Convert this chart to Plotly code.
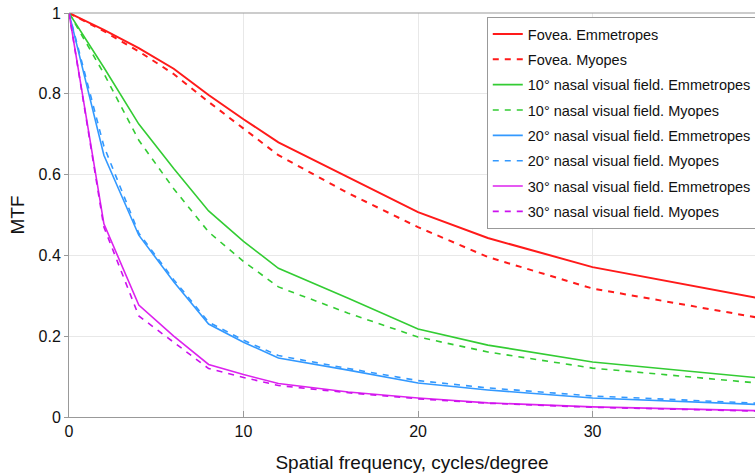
import plotly.graph_objects as go

freq = [0, 2, 4, 6, 8, 10, 12, 16, 20, 24, 30, 40]

fovea_emm = [1, 0.958, 0.913, 0.862, 0.797, 0.737, 0.68, 0.594, 0.507, 0.443, 0.371, 0.29]
fovea_myo = [1, 0.955, 0.905, 0.849, 0.78, 0.715, 0.648, 0.554, 0.47, 0.396, 0.318, 0.242]
n10_emm = [1, 0.865, 0.725, 0.615, 0.51, 0.435, 0.368, 0.294, 0.218, 0.178, 0.136, 0.095]
n10_myo = [1, 0.85, 0.685, 0.565, 0.458, 0.385, 0.322, 0.257, 0.198, 0.161, 0.121, 0.082]
n20_emm = [1, 0.648, 0.45, 0.335, 0.23, 0.185, 0.146, 0.116, 0.084, 0.067, 0.047, 0.03]
n20_myo = [1, 0.67, 0.455, 0.34, 0.235, 0.19, 0.152, 0.12, 0.09, 0.072, 0.052, 0.033]
n30_emm = [1, 0.478, 0.277, 0.2, 0.13, 0.105, 0.083, 0.062, 0.047, 0.035, 0.025, 0.015]
n30_myo = [1, 0.47, 0.25, 0.185, 0.12, 0.098, 0.078, 0.06, 0.045, 0.034, 0.024, 0.014]

names = [
    "Fovea. Emmetropes", "Fovea. Myopes",
    "10° nasal visual field. Emmetropes", "10° nasal visual field. Myopes",
    "20° nasal visual field. Emmetropes", "20° nasal visual field. Myopes",
    "30° nasal visual field. Emmetropes", "30° nasal visual field. Myopes",
]
series = [fovea_emm, fovea_myo, n10_emm, n10_myo, n20_emm, n20_myo, n30_emm, n30_myo]
colors = ["#ff1a1a", "#ff1a1a", "#33cc33", "#33cc33", "#3399ff", "#3399ff", "#dd22ee", "#cc11ee"]
widths = [2, 2, 1.6, 1.6, 1.6, 1.6, 1.6, 1.6]
dashes = ["solid", "6px,6px"] * 4

fig = go.Figure()
for i, (nm, ys, c, w, d) in enumerate(zip(names, series, colors, widths, dashes)):
    fig.add_trace(go.Scatter(x=freq, y=ys, mode="lines", name=nm, legendgroup=f"g{i}",
                             line=dict(color=c, width=w, dash=d)))

font = "Liberation Sans, Arial, sans-serif"
fig.update_layout(
    width=755, height=473,
    margin=dict(l=69, r=0, t=13, b=56, autoexpand=False),
    plot_bgcolor="white", paper_bgcolor="white",
    font=dict(family=font, size=16, color="#111"),
    showlegend=True,
    legend=dict(x=0.609, y=0.99, xanchor="left", yanchor="top",
                bgcolor="white", bordercolor="#999", borderwidth=1,
                font=dict(size=14.5, family=font, color="#111"),
                itemwidth=30, tracegroupgap=3.5),
    xaxis=dict(range=[0, 39.31], tickvals=[0, 10, 20, 30], ticks="inside", ticklen=6,
               tickcolor="#999", showgrid=True, gridcolor="#e8e8e8",
               showline=True, linecolor="#999", linewidth=1, zeroline=False,
               title=dict(text="Spatial frequency, cycles/degree", standoff=16),
               tickfont=dict(size=16)),
    yaxis=dict(range=[0, 1], tickvals=[0, 0.2, 0.4, 0.6, 0.8, 1],
               ticktext=["0", "0.2", "0.4", "0.6", "0.8", "1"],
               ticks="outside", ticklen=4, tickcolor="#999",
               showgrid=True, gridcolor="#e8e8e8", showline=True, linecolor="#999",
               linewidth=1, mirror=False, zeroline=False,
               title=dict(text="MTF", standoff=8), tickfont=dict(size=16)),
)
fig.add_shape(type="line", xref="paper", yref="paper", x0=0, x1=1, y0=1, y1=1,
              line=dict(color="#999", width=1))
fig.write_html("out.html")
